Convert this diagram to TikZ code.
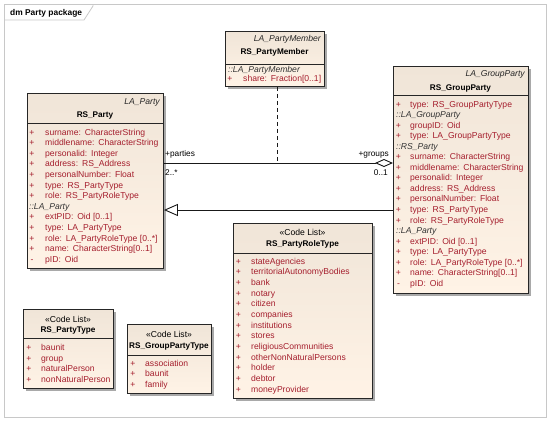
\documentclass[tikz,border=0pt]{standalone}
\usepackage{fontspec}
\setmainfont{Liberation Sans}
\usetikzlibrary{arrows.meta,shadows}
\definecolor{attrred}{RGB}{165,30,45}
\definecolor{boxtop}{RGB}{240,229,216}
\definecolor{boxbot}{RGB}{255,243,230}
\definecolor{framegray}{RGB}{200,200,200}
\newcommand{\cs}{:\hspace{0.45em}}
\newcommand{\crow}[6]{%
  \node[mk] (#1m) at (#2,#4) {#5};
  \node[attr] (#1t) at (#3,#4) {#6};}
\tikzset{
  classbox/.style={draw=black!85, line width=0.9pt, top color=boxtop, bottom color=boxbot,
    anchor=north west, inner sep=0pt,
    drop shadow={shadow xshift=2.5pt, shadow yshift=-2.5pt, fill=black!45, opacity=0.75}},
  txt/.style={inner sep=0pt, font=\fontsize{8.6}{10}\selectfont},
  attr/.style={txt, text=attrred, anchor=base west},
  mk/.style={txt, text=attrred, anchor=base},
  sect/.style={inner sep=0pt, font=\fontsize{8.6}{10}\selectfont\itshape, text=black!80, anchor=base west},
  stereo/.style={inner sep=0pt, font=\fontsize{8.6}{10}\selectfont\itshape, text=black!85, anchor=base east},
  codelist/.style={inner sep=0pt, font=\fontsize{8.6}{10}\selectfont, anchor=base},
  cname/.style={inner sep=0pt, font=\fontsize{8.2}{10}\selectfont\bfseries, anchor=base},
  sepline/.style={draw=black!85, line width=0.9pt},
  conn/.style={draw=black!90, line width=0.9pt},
  role/.style={inner sep=0pt, font=\fontsize{8.3}{10}\selectfont},
}
\begin{document}
\begin{tikzpicture}[x=1pt,y=-1pt]
\useasboundingbox (0,0) rectangle (550,421);
% frame
\draw[framegray, line width=0.8pt] (4,4) rectangle (546,417);
\draw[framegray, line width=0.8pt] (4,20) -- (84,20) -- (93,6) -- (93,4);
\node[inner sep=0pt, anchor=base west, font=\fontsize{8.4}{10}\selectfont\bfseries] (ttl) at (10,15) {dm Party package};

% ---------------- RS_Party
\node[classbox, minimum width=136pt, minimum height=175pt] (party) at (27,93) {};
\draw[sepline] (party.west |- 0,123) -- (party.east |- 0,123);
\node[stereo] (partyst) at (160,104) {LA\_Party};
\node[cname] (partyname) at (95,117) {RS\_Party};
\crow{pa1}{32}{45}{135}{+}{surname\cs CharacterString}
\crow{pa2}{32}{45}{145.6}{+}{middlename\cs CharacterString}
\crow{pa3}{32}{45}{156.2}{+}{personalid\cs Integer}
\crow{pa4}{32}{45}{166.8}{+}{address\cs RS\_Address}
\crow{pa5}{32}{45}{177.4}{+}{personalNumber\cs Float}
\crow{pa6}{32}{45}{188}{+}{type\cs RS\_PartyType}
\crow{pa7}{32}{45}{198.6}{+}{role\cs RS\_PartyRoleType}
\node[sect] (pas1) at (29,209.2) {::LA\_Party};
\crow{pa8}{32}{45}{219.8}{+}{extPID\cs Oid [0..1]}
\crow{pa9}{32}{45}{230.4}{+}{type\cs LA\_PartyType}
\crow{pa10}{32}{45}{241}{+}{role\cs LA\_PartyRoleType [0..*]}
\crow{pa11}{32}{45}{251.6}{+}{name\cs CharacterString[0..1]}
\crow{pa12}{32}{45}{262.2}{-}{pID\cs Oid}

% ---------------- RS_PartyMember
\node[classbox, minimum width=99pt, minimum height=55pt] (member) at (225,31) {};
\draw[sepline] (member.west |- 0,64) -- (member.east |- 0,64);
\node[stereo] (memberst) at (321,41) {LA\_PartyMember};
\node[cname] (membername) at (274.5,54) {RS\_PartyMember};
\node[sect] (mes1) at (228,72) {::LA\_PartyMember};
\crow{me1}{230}{243}{81}{+}{share\cs Fraction[0..1]}

% ---------------- RS_GroupParty
\node[classbox, minimum width=135pt, minimum height=227pt] (group) at (393,66) {};
\draw[sepline] (group.west |- 0,95) -- (group.east |- 0,95);
\node[stereo] (groupst) at (525,76) {LA\_GroupParty};
\node[cname] (groupname) at (460.5,90) {RS\_GroupParty};
\crow{gr1}{398.5}{410}{107}{+}{type\cs RS\_GroupPartyType}
\node[sect] (grs1) at (396,117.55) {::LA\_GroupParty};
\crow{gr2}{398.5}{410}{128.1}{+}{groupID\cs Oid}
\crow{gr3}{398.5}{410}{138.65}{+}{type\cs LA\_GroupPartyType}
\node[sect] (grs2) at (396,149.2) {::RS\_Party};
\crow{gr4}{398.5}{410}{159.75}{+}{surname\cs CharacterString}
\crow{gr5}{398.5}{410}{170.3}{+}{middlename\cs CharacterString}
\crow{gr6}{398.5}{410}{180.85}{+}{personalid\cs Integer}
\crow{gr7}{398.5}{410}{191.4}{+}{address\cs RS\_Address}
\crow{gr8}{398.5}{410}{201.95}{+}{personalNumber\cs Float}
\crow{gr9}{398.5}{410}{212.5}{+}{type\cs RS\_PartyType}
\crow{gr10}{398.5}{410}{223.05}{+}{role\cs RS\_PartyRoleType}
\node[sect] (grs3) at (396,233.6) {::LA\_Party};
\crow{gr11}{398.5}{410}{244.15}{+}{extPID\cs Oid [0..1]}
\crow{gr12}{398.5}{410}{254.7}{+}{type\cs LA\_PartyType}
\crow{gr13}{398.5}{410}{265.25}{+}{role\cs LA\_PartyRoleType [0..*]}
\crow{gr14}{398.5}{410}{275.8}{+}{name\cs CharacterString[0..1]}
\crow{gr15}{398.5}{410}{286.35}{-}{pID\cs Oid}

% ---------------- RS_PartyRoleType
\node[classbox, minimum width=139pt, minimum height=175pt] (roletype) at (233,223) {};
\draw[sepline] (roletype.west |- 0,253) -- (roletype.east |- 0,253);
\node[codelist] (rolecl) at (302.5,235) {«Code List»};
\node[cname] (rolename) at (302.5,246) {RS\_PartyRoleType};
\crow{ro1}{238.5}{251}{264}{+}{stateAgencies}
\crow{ro2}{238.5}{251}{274.67}{+}{territorialAutonomyBodies}
\crow{ro3}{238.5}{251}{285.33}{+}{bank}
\crow{ro4}{238.5}{251}{296}{+}{notary}
\crow{ro5}{238.5}{251}{306.67}{+}{citizen}
\crow{ro6}{238.5}{251}{317.33}{+}{companies}
\crow{ro7}{238.5}{251}{328}{+}{institutions}
\crow{ro8}{238.5}{251}{338.67}{+}{stores}
\crow{ro9}{238.5}{251}{349.33}{+}{religiousCommunities}
\crow{ro10}{238.5}{251}{360}{+}{otherNonNaturalPersons}
\crow{ro11}{238.5}{251}{370.67}{+}{holder}
\crow{ro12}{238.5}{251}{381.33}{+}{debtor}
\crow{ro13}{238.5}{251}{392}{+}{moneyProvider}

% ---------------- RS_PartyType
\node[classbox, minimum width=90pt, minimum height=79pt] (ptype) at (23,309) {};
\draw[sepline] (ptype.west |- 0,338) -- (ptype.east |- 0,338);
\node[codelist] (ptypecl) at (68,322) {«Code List»};
\node[cname] (ptypename) at (68,332.3) {RS\_PartyType};
\crow{pt1}{29}{41}{350.3}{+}{baunit}
\crow{pt2}{29}{41}{361}{+}{group}
\crow{pt3}{29}{41}{371.7}{+}{naturalPerson}
\crow{pt4}{29}{41}{382.3}{+}{nonNaturalPerson}

% ---------------- RS_GroupPartyType
\node[classbox, minimum width=84pt, minimum height=69pt] (gptype) at (127,324) {};
\draw[sepline] (gptype.west |- 0,355) -- (gptype.east |- 0,355);
\node[codelist] (gptypecl) at (169,337) {«Code List»};
\node[cname] (gptypename) at (169,348) {RS\_GroupPartyType};
\crow{gt1}{133}{145}{366}{+}{association}
\crow{gt2}{133}{145}{376.7}{+}{baunit}
\crow{gt3}{133}{145}{387.3}{+}{family}

% ---------------- connectors
\coordinate (aY) at (0,163);
\coordinate (gY) at (0,210);
\coordinate (dm) at (277,163);
\draw[conn, -{Diamond[fill=white,length=18pt,width=8pt]}] (party.east |- aY) -- (group.west |- aY);
\draw[conn, -{Triangle[fill=white,length=14pt,width=12pt]}] (group.west |- gY) -- (party.east |- gY);
\draw[conn, line width=1pt, dash pattern=on 4pt off 3pt] (member.south -| dm) -- (dm);
\node[role, anchor=base west] (lparties) at (165,156) {+parties};
\node[role, anchor=base west] (lmult1) at (165,175) {2..*};
\node[role, anchor=base east] (lgroups) at (389,156) {+groups};
\node[role, anchor=base east] (lmult2) at (388,175) {0..1};
\end{tikzpicture}
\end{document}
